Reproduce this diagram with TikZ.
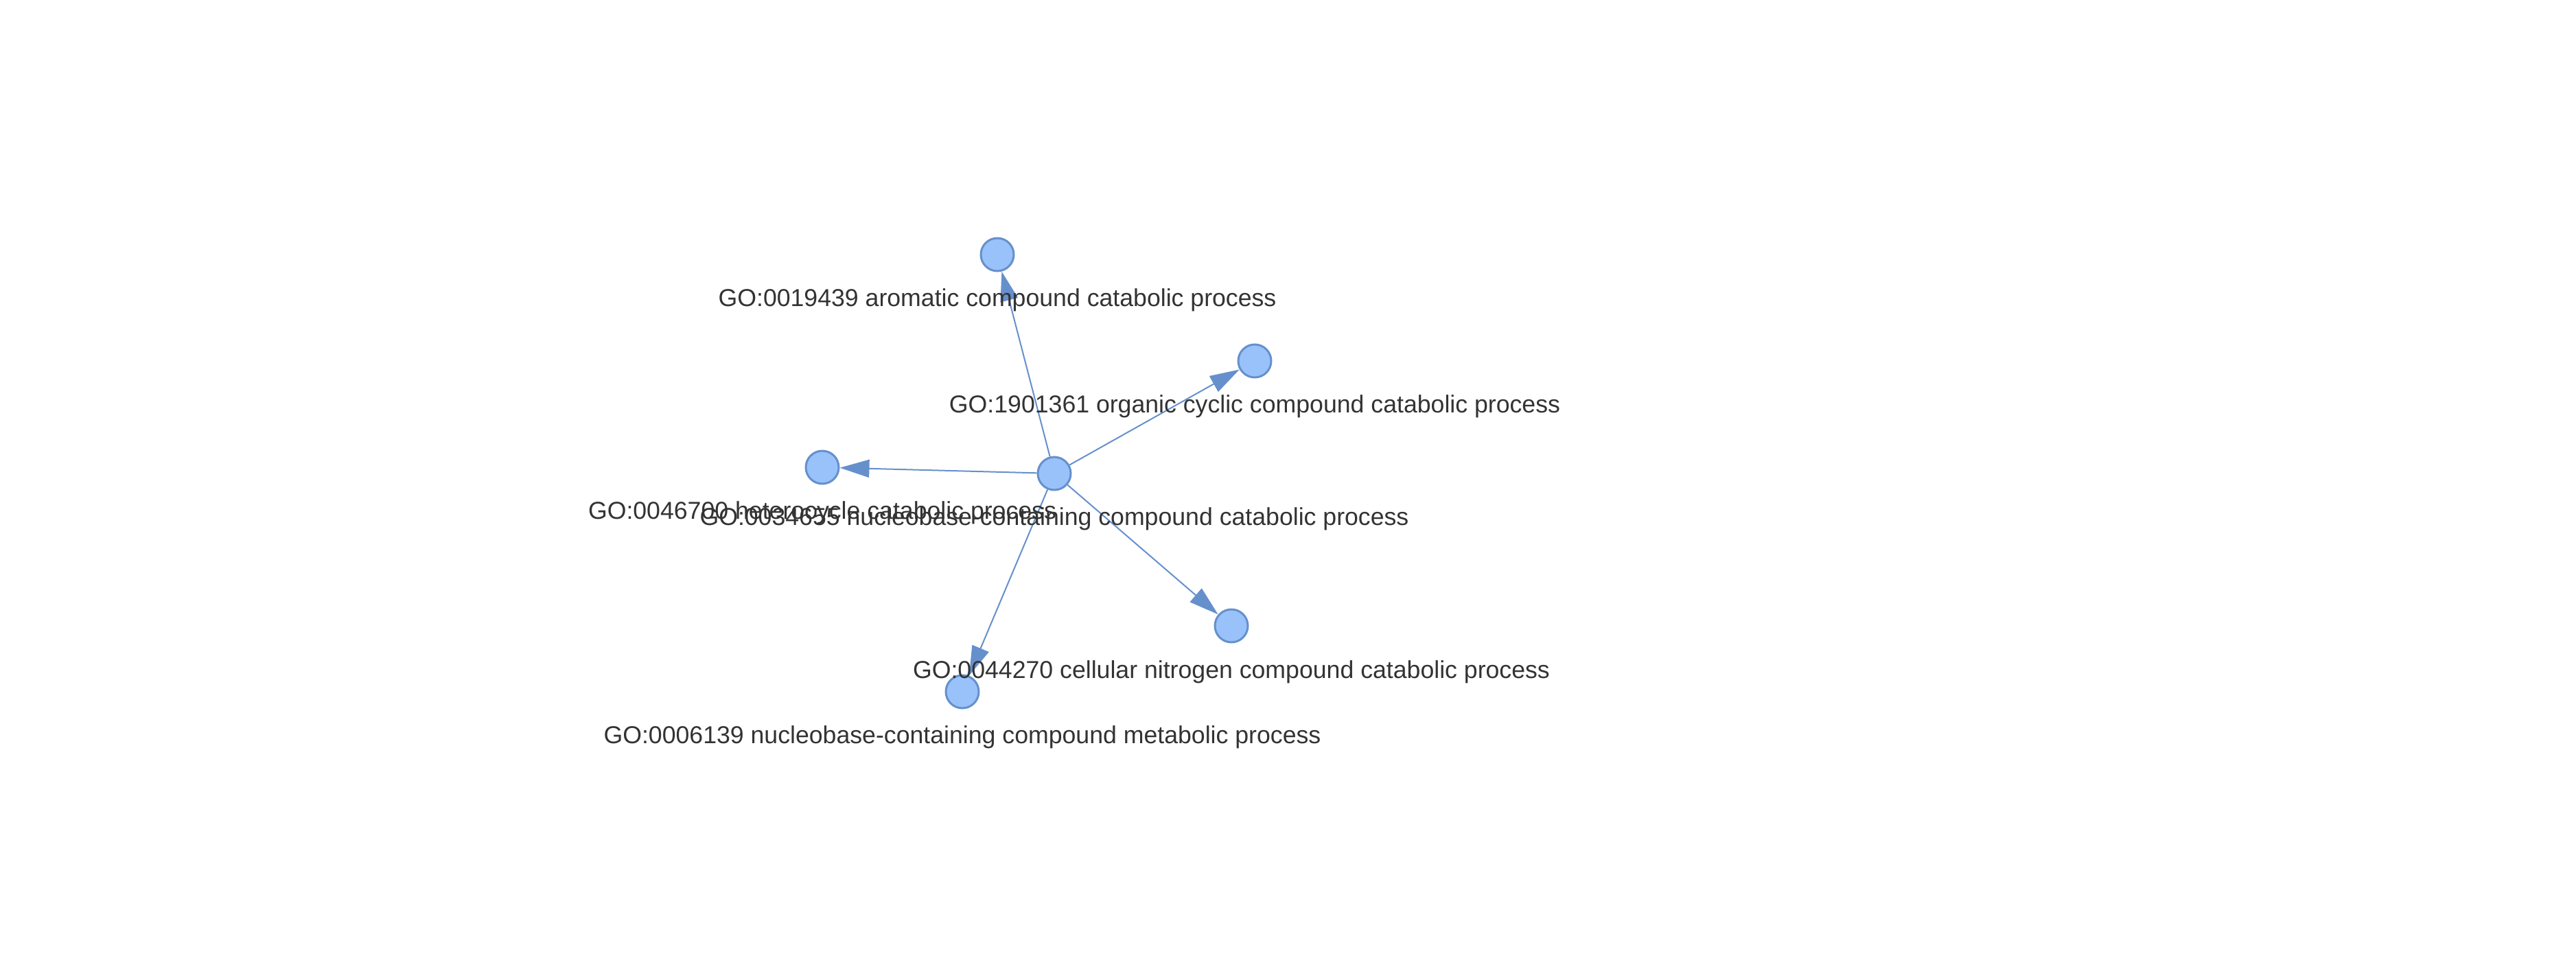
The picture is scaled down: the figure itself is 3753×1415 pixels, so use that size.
\documentclass[tikz,border=0pt]{standalone}
\usepackage{fontspec}
\setmainfont{Liberation Sans}
\usetikzlibrary{arrows.meta}
\definecolor{nodefill}{RGB}{153,194,250}
\definecolor{nodeline}{RGB}{102,144,204}
\definecolor{edgecol}{RGB}{102,144,204}
\definecolor{labelcol}{RGB}{51,51,51}
\begin{document}
\begin{tikzpicture}[x=0.02cm,y=-0.02cm,
  gonode/.style={circle, fill=nodefill, draw=nodeline, line width=0.06cm, minimum size=0.96cm, inner sep=0pt},
  goedge/.style={draw=edgecol, line width=0.04cm, -{Triangle[length=0.86cm, width=0.52cm, fill=edgecol]}},
  golabel/.style={anchor=base, text=labelcol, font=\fontsize{20.3}{24}\selectfont, inner sep=0pt}]
\useasboundingbox (0,0) rectangle (3753,1415);
% nodes
\node[gonode] (c)  at (1536,690) {};
\node[gonode] (t)  at (1453,371) {};
\node[gonode] (ur) at (1828,526) {};
\node[gonode] (l)  at (1198,681) {};
\node[gonode] (lr) at (1794,912) {};
\node[gonode] (b)  at (1402,1008) {};
% edges
\draw[goedge] (c) -- (t);
\draw[goedge] (c) -- (ur);
\draw[goedge] (c) -- (l);
\draw[goedge] (c) -- (lr);
\draw[goedge] (c) -- (b);
% labels
\node[golabel] (tl)  at (1453,447)  {GO:0019439 aromatic compound catabolic process};
\node[golabel] (url) at (1828,602)  {GO:1901361 organic cyclic compound catabolic process};
\node[golabel] (ll)  at (1198,756)  {GO:0046700 heterocycle catabolic process};
\node[golabel] (cl)  at (1536,765)  {GO:0034655 nucleobase-containing compound catabolic process};
\node[golabel] (lrl) at (1794,988)  {GO:0044270 cellular nitrogen compound catabolic process};
\node[golabel] (bl)  at (1402,1083) {GO:0006139 nucleobase-containing compound metabolic process};
\end{tikzpicture}
\end{document}
